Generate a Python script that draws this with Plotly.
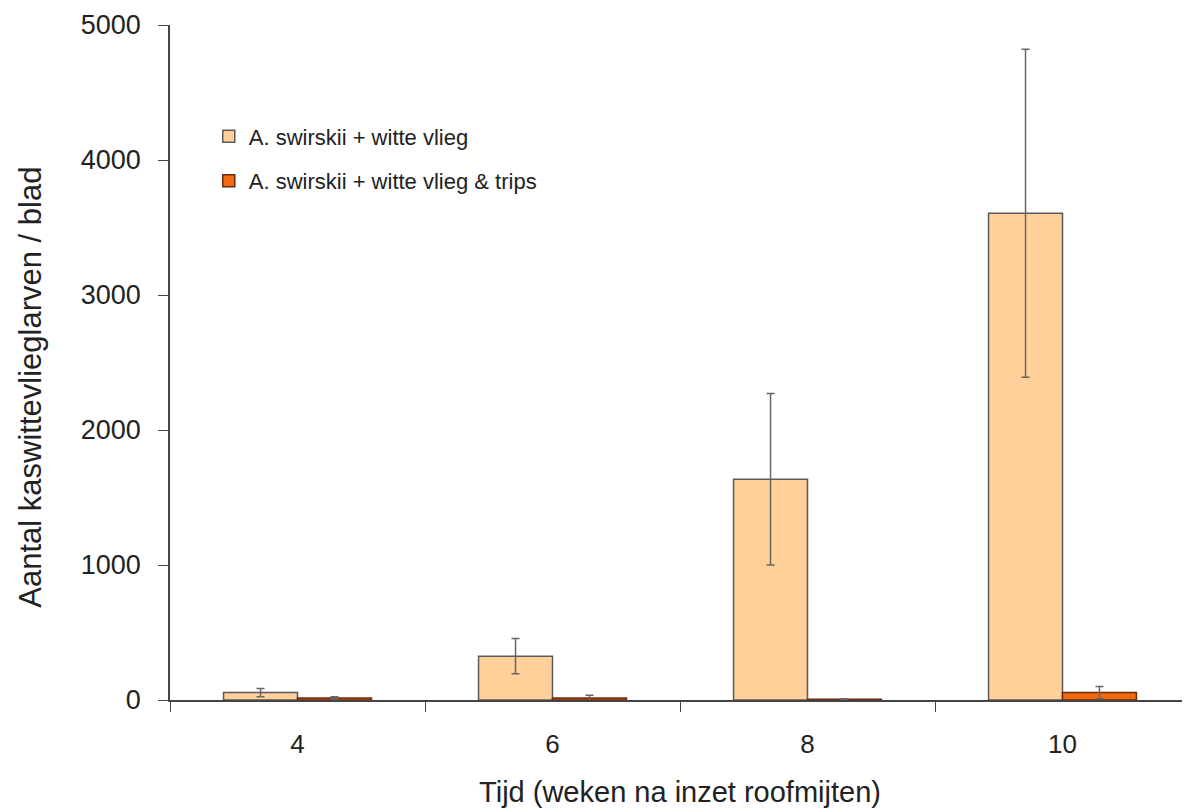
import plotly.graph_objects as go

categories = ["4", "6", "8", "10"]
series1_name = "A. swirskii + witte vlieg"
series1_values = [55, 325, 1635, 3605]
series1_err = [30, 130, 635, 1215]
series2_name = "A. swirskii + witte vlieg & trips"
series2_values = [15, 15, 5, 55]
series2_err = [10, 20, 5, 45]
y_title = "Aantal kaswittevlieglarven / blad"
x_title = "Tijd (weken na inzet roofmijten)"

font_family = "Liberation Sans, Arial, sans-serif"

fig = go.Figure()
fig.add_trace(go.Bar(
    x=categories, y=series1_values, name=series1_name, legendgroup="a",
    marker=dict(color="#FFD09A", line=dict(color="#5a5a5a", width=1.5)),
    error_y=dict(type="data", array=series1_err, color="#666666", thickness=1.5, width=4),
))
fig.add_trace(go.Bar(
    x=categories, y=series2_values, name=series2_name, legendgroup="b",
    marker=dict(color="#F26A10", line=dict(color="#6b2a10", width=1.5)),
    error_y=dict(type="data", array=series2_err, color="#666666", thickness=1.5, width=4),
))

fig.update_layout(
    width=1182, height=800,
    margin=dict(l=162, r=0, t=17, b=108),
    paper_bgcolor="white", plot_bgcolor="white",
    barmode="group", bargap=0.42, bargroupgap=0,
    font=dict(family=font_family, size=26, color="#222222"),
    showlegend=True,
    legend=dict(x=0.038, y=0.866, xanchor="left", yanchor="top",
                font=dict(size=22, color="#222222"), bgcolor="rgba(0,0,0,0)",
                itemwidth=30, tracegroupgap=13),
    xaxis=dict(
        type="category", tickson="boundaries", ticks="outside", ticklen=10,
        tickcolor="#444444", showline=True, linecolor="#444444", linewidth=1.5,
        showgrid=False, range=[-0.5, 3.5], automargin=False,
        ticklabelstandoff=20, ticklabeloverflow="allow",
        title=dict(text=x_title, font=dict(size=29), standoff=24),
        tickfont=dict(size=26),
    ),
    yaxis=dict(
        range=[0, 5000], tickvals=[0, 1000, 2000, 3000, 4000, 5000],
        ticks="outside", ticklen=10, tickcolor="#444444",
        showline=True, linecolor="#444444", linewidth=1.5,
        showgrid=False, zeroline=False, automargin=False,
        ticklabelstandoff=12, ticklabeloverflow="allow",
        tickfont=dict(size=27),
    ),
    annotations=[dict(
        text=y_title, textangle=-90, xref="paper", yref="paper",
        x=-0.137, y=0.463, xanchor="center", yanchor="middle",
        showarrow=False, font=dict(size=31, color="#222222"),
    )],
)

fig.write_html("out.html")
